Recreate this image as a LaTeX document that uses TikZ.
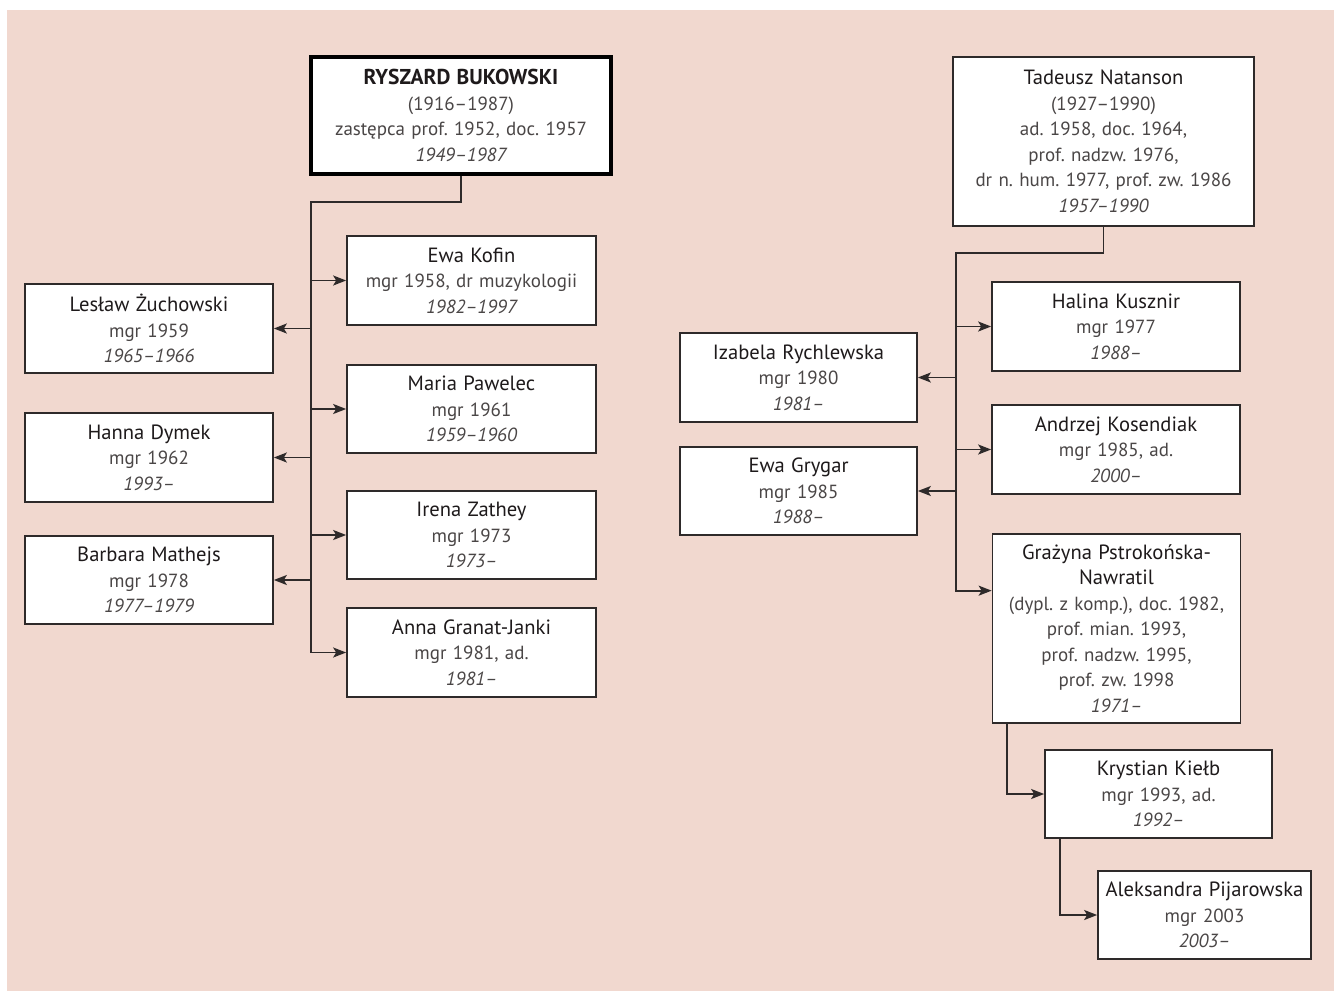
\documentclass[tikz,border=0pt]{standalone}
\usepackage{fontspec}
\setmainfont{PT Sans}
\usetikzlibrary{arrows.meta,calc}
\definecolor{bgpink}{HTML}{F1D8CF}
\definecolor{nmcol}{HTML}{1E1A1B}
\definecolor{dtcol}{HTML}{4A4646}
\definecolor{lncol}{HTML}{2E2A2A}
\newcommand{\nm}[1]{{\color{nmcol}\fontsize{20.6}{25.5}\selectfont #1}}
\newcommand{\bnm}[1]{{\color{nmcol}\fontsize{21.5}{25.5}\selectfont\bfseries #1}}
\newcommand{\yr}[1]{{\color{dtcol}\itshape #1}}
\begin{document}
\frenchspacing
\begin{tikzpicture}[x=1pt,y=1pt,
  person/.style={draw=lncol, line width=1.7pt, fill=white, inner sep=0pt,
    align=center, font=\fontsize{19}{25.5}\selectfont\frenchspacing, text=dtcol},
  conn/.style={draw=lncol, line width=1.8pt},
  arr/.style={conn, -{Stealth[length=13pt,width=10pt,inset=3pt]}}]
\useasboundingbox (0,0) rectangle (1334,-991);
\fill[bgpink] (7,-10) rectangle (1334,-991);
% ---------- left tree ----------
\node[person, line width=3.8pt, draw=black, text width=300pt, minimum height=117pt] (buk) at (461,-115.5)
  {\bnm{RYSZARD BUKOWSKI}\\(1916–1987)\\zastępca prof. 1952, doc. 1957\\\yr{1949–1987}};
\node[person, text width=249pt, minimum height=89pt] (kofin) at (471.5,-280.5)
  {\nm{Ewa Kofin}\\mgr 1958, dr muzykologii\\\yr{1982–1997}};
\node[person, text width=249pt, minimum height=88pt] (pawelec) at (471.5,-409)
  {\nm{Maria Pawelec}\\mgr 1961\\\yr{1959–1960}};
\node[person, text width=249pt, minimum height=88pt] (zathey) at (471.5,-535)
  {\nm{Irena Zathey}\\mgr 1973\\\yr{1973–}};
\node[person, text width=249pt, minimum height=89pt] (granat) at (471.5,-652.5)
  {\nm{Anna Granat-Janki}\\mgr 1981, ad.\\\yr{1981–}};
\node[person, text width=248pt, minimum height=89pt] (zuch) at (149,-328.5)
  {\nm{Lesław Żuchowski}\\mgr 1959\\\yr{1965–1966}};
\node[person, text width=248pt, minimum height=89pt] (dymek) at (149,-457.5)
  {\nm{Hanna Dymek}\\mgr 1962\\\yr{1993–}};
\node[person, text width=248pt, minimum height=88pt] (mathejs) at (149,-580)
  {\nm{Barbara Mathejs}\\mgr 1978\\\yr{1977–1979}};
\coordinate (jL) at (311,-202);
\draw[arr] (buk.south) |- (jL) |- (granat.west);
\draw[arr] (kofin.west -| jL) -- (kofin.west);
\draw[arr] (pawelec.west -| jL) -- (pawelec.west);
\draw[arr] (zathey.west -| jL) -- (zathey.west);
\draw[arr] (zuch.east -| jL) -- (zuch.east);
\draw[arr] (dymek.east -| jL) -- (dymek.east);
\draw[arr] (mathejs.east -| jL) -- (mathejs.east);
% ---------- right tree ----------
\node[person, text width=301pt, minimum height=169pt] (nat) at (1103.5,-141.5)
  {\nm{Tadeusz Natanson}\\(1927–1990)\\ad. 1958, doc. 1964,\\prof. nadzw. 1976,\\dr n. hum. 1977, prof. zw. 1986\\\yr{1957–1990}};
\node[person, text width=248pt, minimum height=89pt] (kusznir) at (1116,-326.5)
  {\nm{Halina Kusznir}\\mgr 1977\\\yr{1988–}};
\node[person, text width=248pt, minimum height=89pt] (kosendiak) at (1116,-449.5)
  {\nm{Andrzej Kosendiak}\\mgr 1985, ad.\\\yr{2000–}};
\node[person, text width=248pt, minimum height=189pt] (graz) at (1116.5,-628.5)
  {\nm{Grażyna Pstrokońska-}\\\nm{Nawratil}\\(dypl. z komp.), doc. 1982,\\prof. mian. 1993,\\prof. nadzw. 1995,\\prof. zw. 1998\\\yr{1971–}};
\node[person, text width=237pt, minimum height=89pt] (rych) at (798.5,-377.5)
  {\nm{Izabela Rychlewska}\\mgr 1980\\\yr{1981–}};
\node[person, text width=237pt, minimum height=88pt] (grygar) at (798.5,-491)
  {\nm{Ewa Grygar}\\mgr 1985\\\yr{1988–}};
\node[person, text width=227pt, minimum height=88pt] (kielb) at (1158.5,-794)
  {\nm{Krystian Kiełb}\\mgr 1993, ad.\\\yr{1992–}};
\node[person, text width=213pt, minimum height=88pt] (pija) at (1204.5,-915)
  {\nm{Aleksandra Pijarowska}\\mgr 2003\\\yr{2003–}};
\coordinate (jR) at (956,-253);
\coordinate (gArr) at ($(graz.north west)+(0,-57.5)$);
\draw[arr] (nat.south) |- (jR) |- (gArr);
\draw[arr] (kusznir.west -| jR) -- (kusznir.west);
\draw[arr] (kosendiak.west -| jR) -- (kosendiak.west);
\draw[arr] (rych.east -| jR) -- (rych.east);
\draw[arr] (grygar.east -| jR) -- (grygar.east);
\draw[arr] ($(graz.south west)+(15,0)$) |- (kielb.west);
\draw[arr] ($(kielb.south west)+(16,0)$) |- (pija.west);
\end{tikzpicture}
\end{document}
